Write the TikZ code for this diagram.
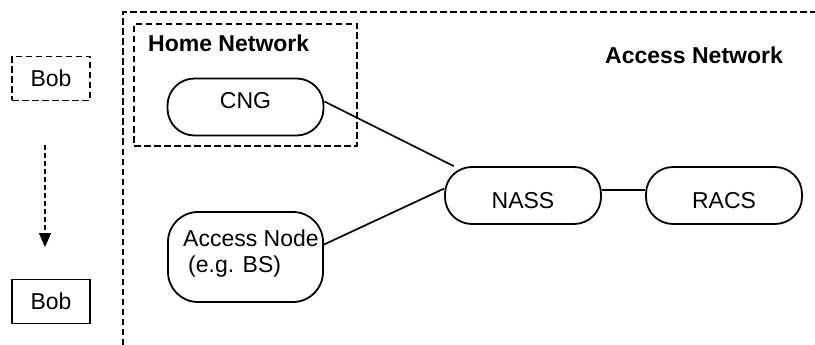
\documentclass[tikz,border=0pt]{standalone}
\usepackage{fontspec}
\setmainfont{Liberation Sans}
\usetikzlibrary{arrows.meta}
\begin{document}
\begin{tikzpicture}[x=1pt,y=-1pt,
  every node/.style={font=\fontsize{23}{26}\selectfont, inner sep=0pt},
  dashline/.style={line width=1.4pt, dash pattern=on 6.5pt off 3.5pt},
  pill/.style={draw, line width=1.8pt, rounded corners=27pt,
    minimum width=156pt, minimum height=57pt},
  userbox/.style={draw, line width=1.3pt, minimum width=78pt, minimum height=44pt},
  title/.style={anchor=west, font=\fontsize{23}{26}\selectfont\bfseries},
  link/.style={line width=1.7pt},
  lowtext/.style={text height=25.5pt, text depth=0pt},
  hightext/.style={text height=16.5pt, text depth=14pt}]
\useasboundingbox (0,0) rectangle (815,345);

% access network boundary (open to the right and bottom)
\draw[dashline] (123,345) -- (123,12) -- (815,12);
\node[title] (accesst) at (605,55) {Access Network};

% home network
\node[draw, dashline, minimum width=223pt, minimum height=122pt] (home) at (245.5,85) {};
\node[title] (homet) at (148,43) {Home Network};
\node[pill, hightext] (cng) at (245.5,107) {CNG};

% access node
\node[draw, line width=1.8pt, rounded corners=30pt,
  minimum width=155pt, minimum height=90pt] (an) at (245.5,257) {};
\node[anchor=west, align=left] (antext) at (183,254) {Access Node\\\hspace*{5pt}(e.g. BS)};

% control elements
\node[pill, lowtext] (nass) at (523,195.5) {NASS};
\node[pill, lowtext] (racs) at (724,195.5) {RACS};

% user moving between networks
\node[userbox, dashline] (bob1) at (51,78.5) {Bob};
\node[userbox] (bob2) at (51,301.5) {Bob};
\coordinate (mvstart) at (45,145);
\coordinate (mvend) at (45,247);
\draw[line width=1.4pt, dash pattern=on 5pt off 3pt,
  -{Triangle[width=12pt,length=14pt]}] (mvstart) -- (mvend);

% links
\draw[link] (cng.4) -- (nass.157);
\draw[link] (an.9) -- (nass.175);
\draw[line width=1.3pt] (nass.4) -- (racs.176);
\end{tikzpicture}
\end{document}
